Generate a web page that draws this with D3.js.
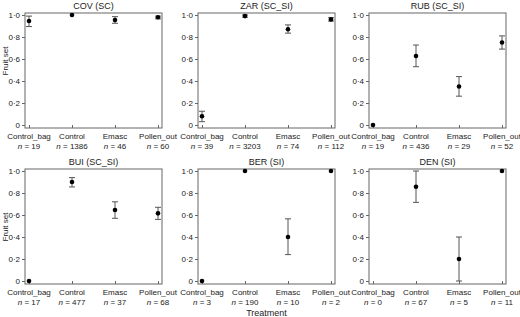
<!DOCTYPE html>
<html>
<head>
<meta charset="utf-8">
<script src="https://cdn.jsdelivr.net/npm/d3@7"></script>
<style>
  body { margin: 0; background: #fff; }
  svg { font-family: "Liberation Sans", Arial, sans-serif; }
</style>
</head>
<body>
<svg width="520" height="317"></svg>
<script>
// data
const treatments = ["Control_bag", "Control", "Emasc", "Pollen_out"]
const titles = ["COV (SC)", "ZAR (SC_SI)", "RUB (SC_SI)", "BUI (SC_SI)", "BER (SI)", "DEN (SI)"]
const yTicks = [0, 0.2, 0.4, 0.6, 0.8, 1.0]

// fruit set means (null = no data)
const means = [
  [0.945, 1.0, 0.955, 0.98],
  [0.08, 0.99, 0.87, 0.96],
  [0.0, 0.627, 0.35, 0.75],
  [0.0, 0.90, 0.645, 0.615],
  [0.0, 1.0, 0.40, 1.0],
  [null, 0.857, 0.20, 1.0]
]
const lower = [
  [0.895, 1.0, 0.925, 0.965],
  [0.03, 0.98, 0.835, 0.945],
  [0.0, 0.53, 0.262, 0.69],
  [0.0, 0.855, 0.57, 0.56],
  [0.0, 1.0, 0.24, 1.0],
  [null, 0.715, 0.0, 1.0]
]
const upper = [
  [0.99, 1.0, 0.985, 0.99],
  [0.125, 1.0, 0.91, 0.975],
  [0.0, 0.727, 0.44, 0.81],
  [0.0, 0.94, 0.72, 0.67],
  [0.0, 1.0, 0.565, 1.0],
  [null, 1.0, 0.40, 1.0]
]
const counts = [
  [19, 1386, 46, 60],
  [39, 3203, 74, 112],
  [19, 436, 29, 52],
  [17, 477, 37, 68],
  [3, 190, 10, 2],
  [0, 67, 5, 11]
]

let svg = d3.select('svg')

let boxLeft = [25, 198, 369]
let boxWidth = 137
let boxTop = [13, 169]
let boxHeight = 115
let yLabelY = [61, 227]

let fmt = (d) => d == 0 ? "0" : d.toFixed(1).replace('.', '\u00b7')

titles.forEach((title, p) => {
    let col = p % 3
    let row = Math.floor(p / 3)
    let x0 = boxLeft[col]
    let y0 = boxTop[row]

    let g = svg.append('g').attr('transform', `translate(${x0} ${y0})`)

    let x = d3.scalePoint()
    .domain(treatments)
    .range([4, boxWidth - 4])

    let y = d3.scaleLinear()
    .domain([0, 1])
    .range([boxHeight - 3, 2])

    // frame
    g.append('rect')
    .attr('x', 0)
    .attr('y', 0)
    .attr('width', boxWidth)
    .attr('height', boxHeight)
    .attr('fill', 'none')
    .attr('stroke', '#666')
    .attr('stroke-width', 1)

    // y axis
    let yAxis = g.append('g')
    .call(d3.axisLeft(y).tickValues(yTicks).tickFormat(fmt).tickSize(3).tickPadding(2))
    yAxis.select('.domain').remove()
    yAxis.selectAll('line').attr('stroke', '#666')
    yAxis.selectAll('text').attr('font-size', 8).attr('fill', '#222').attr('font-family', null)

    // x axis, ticks pointing inward
    let xAxis = g.append('g')
    .attr('transform', `translate(0 ${boxHeight})`)
    .call(d3.axisBottom(x).tickSize(-3).tickFormat(''))
    xAxis.select('.domain').remove()
    xAxis.selectAll('line').attr('stroke', '#666')

    // category labels with n
    let labs = g.selectAll('g.lab')
    .data(treatments)
    .enter()
    .append('g')
    .attr('class', 'lab')
    .attr('transform', (d) => `translate(${x(d)} ${boxHeight})`)

    labs.append('text')
    .attr('y', 11)
    .attr('text-anchor', 'middle')
    .attr('font-size', 8)
    .attr('fill', '#222')
    .text((d) => d)

    let nText = labs.append('text')
    .attr('y', 21)
    .attr('text-anchor', 'middle')
    .attr('font-size', 8)
    .attr('fill', '#222')
    nText.append('tspan').attr('font-style', 'italic').text('n')
    nText.append('tspan').text((d, i) => ' = ' + counts[p][i])

    // title
    g.append('text')
    .attr('x', boxWidth / 2)
    .attr('y', -4)
    .attr('text-anchor', 'middle')
    .attr('font-size', 9)
    .attr('fill', '#222')
    .text(title)

    let pts = treatments.map((t, i) => ({ t: t, m: means[p][i], lo: lower[p][i], hi: upper[p][i] }))
    .filter((d) => d.m != null)

    // error bars
    let bars = g.selectAll('g.err')
    .data(pts.filter((d) => d.hi - d.lo > 0.001))
    .enter()
    .append('g')
    .attr('class', 'err')
    .attr('stroke', '#555')
    .attr('stroke-width', 1)

    bars.append('line')
    .attr('x1', (d) => x(d.t)).attr('x2', (d) => x(d.t))
    .attr('y1', (d) => y(d.lo)).attr('y2', (d) => y(d.hi))
    bars.append('line')
    .attr('x1', (d) => x(d.t) - 3).attr('x2', (d) => x(d.t) + 3)
    .attr('y1', (d) => y(d.lo)).attr('y2', (d) => y(d.lo))
    bars.append('line')
    .attr('x1', (d) => x(d.t) - 3).attr('x2', (d) => x(d.t) + 3)
    .attr('y1', (d) => y(d.hi)).attr('y2', (d) => y(d.hi))

    g.selectAll('circle.pt')
    .data(pts)
    .enter()
    .append('circle')
    .attr('class', 'pt')
    .attr('cx', (d) => x(d.t))
    .attr('cy', (d) => y(d.m))
    .attr('r', 2.3)
    .attr('fill', '#000')

    // y label on first column
    if (col == 0) {
        svg.append('text')
        .attr('transform', `translate(8 ${yLabelY[row]}) rotate(-90)`)
        .attr('text-anchor', 'middle')
        .attr('font-size', 8)
        .attr('fill', '#222')
        .text('Fruit set')
    }
})

svg.append('text')
.attr('x', boxLeft[1] + boxWidth / 2)
.attr('y', 316)
.attr('text-anchor', 'middle')
.attr('font-size', 9)
.attr('fill', '#222')
.text('Treatment')
</script>
</body>
</html>
